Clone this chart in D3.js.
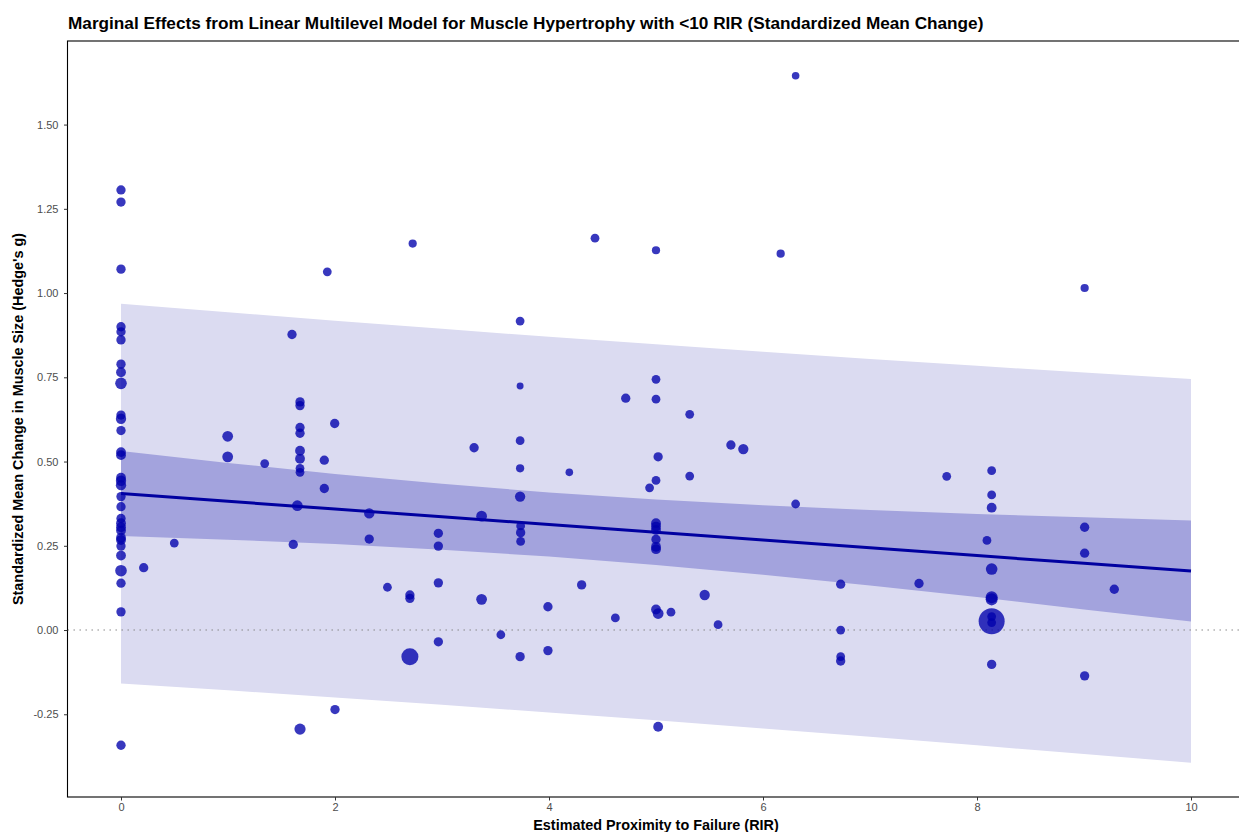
<!DOCTYPE html>
<html>
<head>
<meta charset="utf-8">
<script src="https://cdn.jsdelivr.net/npm/d3@7"></script>
<style>
  html, body { margin: 0; padding: 0; background: #fff; }
  svg { display: block; font-family: "Liberation Sans", Arial, Helvetica, sans-serif; }
</style>
</head>
<body>
<svg id="chart" width="1239" height="832"></svg>
<script>
// ---- Data ----
const rir = [
  0,0,0,0,0,0,0,0,0,0,0,0,0,0,0,0,0,0,0,0,0,0,0,0,0,0,0,0,0,0,0,
  0.212,0.498,0.997,0.997,1.343,1.598,1.673,1.673,1.673,1.673,1.673,1.673,1.673,1.673,1.648,1.61,
  1.90,1.90,1.928,1.997,2.0,1.673,2.32,2.32,2.49,2.70,2.70,2.70,2.726,2.966,2.966,2.966,2.966,
  3.30,3.37,3.37,3.55,3.73,3.73,3.73,3.73,3.73,3.735,3.735,3.735,3.73,3.99,3.99,4.19,4.305,4.43,
  4.62,4.717,4.94,5.0,5.0,5.0,5.02,5.0,5.0,5.0,5.0,5.0,5.0,5.0,5.0,5.02,5.02,5.14,5.315,5.315,
  5.455,5.58,5.70,5.816,6.165,6.305,6.305,6.726,6.726,6.726,6.726,7.458,7.717,8.137,8.137,8.137,
  8.093,8.137,8.137,8.137,8.137,8.137,8.137,8.137,9.006,9.006,9.006,9.283,9.006
];
const smd = [
  1.306,1.270,1.071,0.900,0.885,0.861,0.789,0.765,0.732,0.638,0.627,0.592,0.528,0.519,0.452,0.443,
  0.430,0.396,0.366,0.331,0.317,0.305,0.295,0.274,0.267,0.249,0.221,0.176,0.139,0.054,-0.342,
  0.185,0.258,0.575,0.514,0.494,0.877,0.677,0.666,0.601,0.584,0.532,0.508,0.480,0.468,0.369,0.254,
  0.504,0.420,1.063,0.613,-0.236,-0.294,0.346,0.270,0.127,0.104,0.094,-0.079,1.147,0.287,0.249,0.140,-0.035,
  0.541,0.338,0.091,-0.014,0.917,0.724,0.562,0.480,0.396,0.309,0.289,0.263,-0.079,0.069,-0.061,0.468,0.134,1.163,
  0.036,0.688,0.422,1.127,0.744,0.685,0.514,0.444,0.317,0.307,0.297,0.269,0.247,0.240,0.061,0.049,-0.287,0.053,0.640,0.457,
  0.104,0.016,0.549,0.537,1.117,1.645,0.374,0.136,0.000,-0.079,-0.092,0.138,0.456,0.473,0.401,0.363,
  0.266,0.181,0.097,0.091,0.026,0.040,0.022,-0.102,1.015,0.305,0.228,0.121,-0.136
];
const weight = [
  9,9,9,9,9,9,9,10,14,9,11,9,10,10,10,11,11,9,9,9,10,10,10,10,10,9,10,14,9,9,9,
  9,8,12,12,8,9,9,9,9,9,10,10,8,8,12,9,
  9,9,8,9,9,13,11,9,8,9,9,30,7,9,9,9,9,
  9,12,12,8,8,5,8,7,11,8,9,8,9,9,9,6,9,8,
  8,9,8,7,8,8,9,8,10,10,10,9,10,10,10,12,10,8,8,8,
  11,8,9,11,7,6,8,9,8,8,9,9,8,8,8,10,
  8,14,15,15,70,8,8,9,7,9,9,9,9
];

// Fitted line and ribbons (confidence and prediction intervals)
const fitX   = [0, 1, 2, 3, 4, 5, 6, 7, 8, 9, 10];
const fitY   = [0.405, 0.382, 0.359, 0.336, 0.313, 0.290, 0.267, 0.244, 0.221, 0.198, 0.175];
const ciHigh = [0.531, 0.496, 0.463, 0.434, 0.408, 0.387, 0.370, 0.356, 0.344, 0.335, 0.325];
const ciLow  = [0.279, 0.268, 0.255, 0.238, 0.218, 0.193, 0.164, 0.132, 0.098, 0.061, 0.025];
const piHigh = [0.968, 0.943, 0.918, 0.894, 0.870, 0.848, 0.826, 0.804, 0.784, 0.764, 0.745];
const piLow  = [-0.159, -0.179, -0.200, -0.222, -0.245, -0.268, -0.292, -0.317, -0.342, -0.368, -0.394];

const xTicks = [0, 2, 4, 6, 8, 10];
const yTicks = [-0.25, 0, 0.25, 0.50, 0.75, 1.00, 1.25, 1.50];

const titleText = "Marginal Effects from Linear Multilevel Model for Muscle Hypertrophy with <10 RIR (Standardized Mean Change)";
const xTitle = "Estimated Proximity to Failure (RIR)";
const yTitle = "Standardized Mean Change in Muscle Size (Hedge's g)";

// ---- Drawing ----
const svg = d3.select("#chart");
const panel = { left: 67.5, right: 1244.5, top: 41, bottom: 797 };

const x = d3.scaleLinear().domain([-0.5, 10.5]).range([panel.left, panel.right]);
const y = d3.scaleLinear().domain([-0.4955, 1.748]).range([panel.bottom, panel.top]);
const r = d3.scaleSqrt().domain([0, 70]).range([0, 13]);

const idx = d3.range(fitX.length);

// prediction ribbon
svg.append("path")
  .attr("d", d3.area().x(i => x(fitX[i])).y0(i => y(piLow[i])).y1(i => y(piHigh[i]))(idx))
  .attr("fill", "rgb(219,219,241)");
// confidence ribbon
svg.append("path")
  .attr("d", d3.area().x(i => x(fitX[i])).y0(i => y(ciLow[i])).y1(i => y(ciHigh[i]))(idx))
  .attr("fill", "rgb(163,163,221)");

// zero reference line
svg.append("line")
  .attr("x1", panel.left).attr("x2", panel.right)
  .attr("y1", y(0)).attr("y2", y(0))
  .attr("stroke", "#808080").attr("stroke-width", 1.1)
  .attr("stroke-dasharray", "1.4,4.6");

// fitted line
svg.append("path")
  .attr("d", d3.line().x(i => x(fitX[i])).y(i => y(fitY[i]))(idx))
  .attr("fill", "none").attr("stroke", "#0000a0").attr("stroke-width", 3);

// points
svg.append("g").selectAll("circle")
  .data(d3.range(rir.length))
  .join("circle")
  .attr("cx", i => x(rir[i]))
  .attr("cy", i => y(smd[i]))
  .attr("r", i => r(weight[i]))
  .attr("fill", "#0000ac")
  .attr("fill-opacity", 0.78);

// panel border
svg.append("rect")
  .attr("x", panel.left).attr("y", panel.top)
  .attr("width", panel.right - panel.left).attr("height", panel.bottom - panel.top)
  .attr("fill", "none").attr("stroke", "#000").attr("stroke-width", 1.1);

// axes
const yAxis = svg.append("g")
  .attr("transform", `translate(${panel.left},0)`)
  .call(d3.axisLeft(y).tickValues(yTicks).tickFormat(d => d.toFixed(2)).tickSize(3.5).tickPadding(5.5));
const xAxis = svg.append("g")
  .attr("transform", `translate(0,${panel.bottom})`)
  .call(d3.axisBottom(x).tickValues(xTicks).tickFormat(d3.format("d")).tickSize(3.5).tickPadding(2.5));
[yAxis, xAxis].forEach(g => {
  g.select(".domain").remove();
  g.selectAll(".tick line").attr("stroke", "#333").attr("stroke-width", 1);
  g.selectAll(".tick text")
    .attr("fill", "#4d4d4d")
    .attr("font-size", 11)
    .attr("font-family", "'Liberation Sans', Arial, sans-serif");
});

// titles
svg.append("text")
  .attr("x", 68).attr("y", 29)
  .attr("font-size", 17.2).attr("font-weight", "bold").attr("fill", "#000")
  .text(titleText);

svg.append("text")
  .attr("x", (panel.left + panel.right) / 2).attr("y", 830)
  .attr("text-anchor", "middle")
  .attr("font-size", 14.4).attr("font-weight", "bold").attr("fill", "#000")
  .text(xTitle);

svg.append("text")
  .attr("transform", `translate(23,${(panel.top + panel.bottom) / 2}) rotate(-90)`)
  .attr("text-anchor", "middle")
  .attr("font-size", 14.4).attr("font-weight", "bold").attr("fill", "#000")
  .text(yTitle);
</script>
</body>
</html>
